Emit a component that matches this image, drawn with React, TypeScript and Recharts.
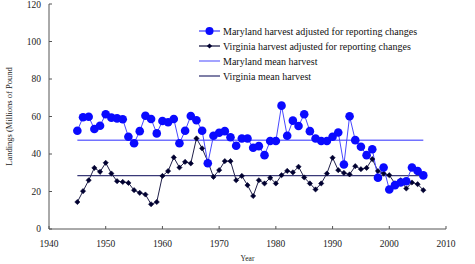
import React from 'react';
import { LineChart, Line, XAxis, YAxis, Label } from 'recharts';

const YEARS = [
  1945, 1946, 1947, 1948, 1949, 1950, 1951, 1952, 1953, 1954,
  1955, 1956, 1957, 1958, 1959, 1960, 1961, 1962, 1963, 1964,
  1965, 1966, 1967, 1968, 1969, 1970, 1971, 1972, 1973, 1974,
  1975, 1976, 1977, 1978, 1979, 1980, 1981, 1982, 1983, 1984,
  1985, 1986, 1987, 1988, 1989, 1990, 1991, 1992, 1993, 1994,
  1995, 1996, 1997, 1998, 1999, 2000, 2001, 2002, 2003, 2004,
  2005, 2006,
];

const MARYLAND = [
  52.4, 59.6, 59.9, 53.3, 55.1, 61.2, 59.4, 59.0, 58.5, 49.2,
  45.7, 52.2, 60.4, 58.7, 51.0, 57.6, 56.9, 58.7, 45.7, 52.4,
  60.3, 58.0, 52.4, 35.1, 49.7, 51.3, 52.2, 48.9, 44.4, 48.3,
  48.3, 43.3, 44.2, 39.4, 46.9, 46.9, 65.8, 49.7, 57.8, 54.9,
  61.2, 52.2, 48.3, 46.9, 46.9, 49.2, 51.5, 34.4, 60.1, 47.4,
  43.9, 39.4, 42.5, 27.3, 32.8, 21.1, 23.4, 24.8, 25.5, 32.8,
  30.9, 28.6,
];

const VIRGINIA = [
  14.4, 20.2, 26.0, 32.6, 30.5, 35.3, 29.6, 25.5, 25.1, 24.6,
  20.7, 19.3, 18.4, 13.2, 14.4, 28.3, 30.9, 38.2, 32.8, 35.8,
  35.0, 48.3, 43.0, 36.0, 27.8, 31.4, 36.2, 36.2, 26.0, 28.3,
  23.4, 17.6, 26.0, 24.3, 27.3, 24.3, 28.7, 31.0, 30.2, 33.2,
  27.5, 24.3, 21.1, 24.3, 29.6, 38.0, 31.4, 29.9, 29.1, 33.5,
  31.9, 32.6, 37.3, 30.9, 29.6, 28.7, 24.3, 26.0, 21.6, 24.8,
  23.9, 20.7,
];

const MD_MEAN = 47.4;
const VA_MEAN = 28.5;

const X_TICKS = [1940, 1950, 1960, 1970, 1980, 1990, 2000, 2010];
const Y_TICKS = [0, 20, 40, 60, 80, 100, 120];

const LEGEND_ITEMS = [
  { label: 'Maryland harvest adjusted for reporting changes', color: '#4848ff', dot: 'circle', dotColor: '#0a0aff' },
  { label: 'Virginia harvest adjusted for reporting changes', color: '#20204a', dot: 'diamond', dotColor: '#000030' },
  { label: 'Maryland mean harvest', color: '#7272ff', dot: null, dotColor: '' },
  { label: 'Virginia mean harvest', color: '#3a3a78', dot: null, dotColor: '' },
];

const FONT = '"Liberation Serif", "Times New Roman", serif';

const data = YEARS.map((year, i) => ({
  year,
  md: MARYLAND[i],
  va: VIRGINIA[i],
  mdMean: MD_MEAN,
  vaMean: VA_MEAN,
}));

const Diamond = (props: any) => {
  const { cx, cy } = props;
  if (cx == null || cy == null) return null;
  const s = 2.6;
  return (
    <path
      d={`M${cx},${cy - s} L${cx + s},${cy} L${cx},${cy + s} L${cx - s},${cy} Z`}
      fill="#000030"
      stroke="#000030"
      strokeWidth={0.6}
    />
  );
};

// legend sits over the chart, it doesn't take room from the plot
const LegendBox = () => (
  <div style={{ position: 'absolute', left: 199, top: 23.5, fontFamily: FONT, fontSize: 10, color: '#111' }}>
    {LEGEND_ITEMS.map((it) => (
      <div key={it.label} style={{ display: 'flex', alignItems: 'center', height: 15, lineHeight: '15px' }}>
        <svg width={22} height={10} style={{ marginRight: 2 }}>
          <line x1={0} y1={5} x2={21} y2={5} stroke={it.color} strokeWidth={1.3} />
          {it.dot === 'circle' && <circle cx={10.5} cy={5} r={4} fill={it.dotColor} />}
          {it.dot === 'diamond' && (
            <path d="M10.5,2.4 L13.1,5 L10.5,7.6 L7.9,5 Z" fill={it.dotColor} />
          )}
        </svg>
        <span style={{ whiteSpace: 'nowrap' }}>{it.label}</span>
      </div>
    ))}
  </div>
);

export default function App() {
  return (
    <div style={{ position: 'absolute', left: 0, top: 0, width: 475, height: 264, background: '#fff' }}>
      <LineChart
        width={475}
        height={264}
        data={data}
        margin={{ top: 4, right: 29, bottom: 0, left: 9 }}
      >
        <XAxis
          dataKey="year"
          type="number"
          domain={[1940, 2010]}
          ticks={X_TICKS}
          height={35}
          tickSize={-3}
          tickMargin={14}
          stroke="#555"
          tick={{ fill: '#222', fontSize: 9.5, fontFamily: FONT }}
        >
          <Label value="Year" position="insideBottom" offset={3} fill="#222" fontSize={7.5} fontFamily={FONT} />
        </XAxis>
        <YAxis
          type="number"
          domain={[0, 120]}
          ticks={Y_TICKS}
          width={40}
          tickSize={-3}
          tickMargin={11}
          stroke="#555"
          tick={{ fill: '#222', fontSize: 9.5, fontFamily: FONT }}
        >
          <Label
            value="Landings (Millions of Pound"
            angle={-90}
            position="insideLeft"
            offset={0}
            fill="#222"
            fontSize={8.5}
            fontFamily={FONT}
            style={{ textAnchor: 'middle' }}
          />
        </YAxis>
        <Line
          dataKey="mdMean"
          stroke="#7272ff"
          strokeWidth={1.5}
          dot={false}
          isAnimationActive={false}
        />
        <Line
          dataKey="vaMean"
          stroke="#3a3a78"
          strokeWidth={1.2}
          dot={false}
          isAnimationActive={false}
        />
        <Line
          dataKey="va"
          stroke="#20204a"
          strokeWidth={1}
          dot={<Diamond />}
          activeDot={false}
          isAnimationActive={false}
        />
        <Line
          dataKey="md"
          stroke="#4848ff"
          strokeWidth={1}
          dot={{ r: 4.3, fill: '#0a0aff', stroke: 'none' }}
          activeDot={false}
          isAnimationActive={false}
        />
      </LineChart>
      <LegendBox />
    </div>
  );
}
